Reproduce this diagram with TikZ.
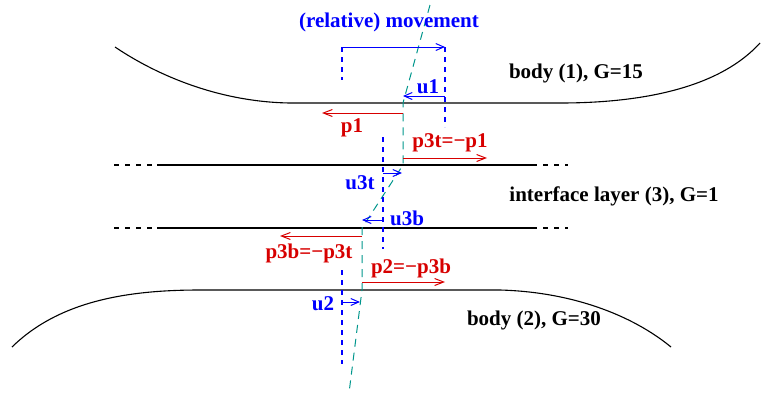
\documentclass[tikz,border=0pt]{standalone}
\usepackage{fontspec}
\setmainfont{Liberation Serif}
\usetikzlibrary{arrows.meta}
\definecolor{myblue}{RGB}{0,0,255}
\definecolor{myred}{RGB}{215,0,0}
\definecolor{myteal}{RGB}{0,150,140}
\begin{document}
\begin{tikzpicture}[x=1pt,y=-1pt,
  lbl/.style={font=\fontsize{21}{24}\selectfont\bfseries, inner sep=0pt},
  bodyline/.style={line width=1.1pt, black},
  layerline/.style={line width=1.2pt, black},
  layerdash/.style={line width=1.2pt, black, dash pattern=on 5pt off 6pt},
  bluedash/.style={line width=1.1pt, draw=myblue, dash pattern=on 5pt off 5pt},
  tealdash/.style={line width=1pt, draw=myteal, dash pattern=on 8pt off 6pt},
  bluearr/.style={line width=1pt, draw=myblue, -{Straight Barb[length=8pt,width=7pt]}},
  redarr/.style={line width=1pt, draw=myred, -{Straight Barb[length=9pt,width=7pt]}}
]
\useasboundingbox (0,0) rectangle (763,397);

% bodies
\draw[bodyline] (115,47) .. controls (158,76) and (220,102) .. (290,103) -- (560,103)
  .. controls (650,103) and (722,85) .. (760,43);
\draw[bodyline] (12,347) .. controls (60,300) and (130,290) .. (200,290) -- (500,290)
  .. controls (572,292) and (632,315) .. (671,347);

% interface layer lines
\draw[layerline] (157,165) -- (532,165);
\draw[layerdash] (114,165) -- (157,165);
\draw[layerdash] (532,165) -- (568,165);
\draw[layerline] (157,228) -- (532,228);
\draw[layerdash] (114,228) -- (157,228);
\draw[layerdash] (532,228) -- (568,228);

% teal displacement line
\coordinate (t0) at (430,5);
\coordinate (t1) at (403,103);
\coordinate (t2) at (403,165);
\coordinate (t3) at (362,228);
\coordinate (t4) at (362,290);
\coordinate (t5) at (349,393);
\draw[tealdash] (t0) -- (t1) -- (t2) -- (t3) -- (t4) -- (t5);

% blue reference verticals
\coordinate (mL) at (342,47);
\coordinate (mLb) at (342,80);
\coordinate (mR) at (445,47);
\coordinate (mRb) at (445,127);
\draw[bluedash] (mL) -- (mLb);
\draw[bluedash] (mR) -- (mRb);
\coordinate (v3t) at (383,137);
\coordinate (v3b) at (383,249);
\draw[bluedash] (v3t) -- (v3b);
\coordinate (v2t) at (342,270);
\coordinate (v2b) at (342,364);
\draw[bluedash] (v2t) -- (v2b);

% movement arrow
\node[lbl, text=myblue] (mov) at (389,22) {(relative) movement};
\draw[bluearr] (mL) -- (mR);

% u arrows
\coordinate (u1s) at (445,96);
\coordinate (u1e) at (403,96);
\draw[bluearr] (u1s) -- (u1e);
\node[lbl, text=myblue] (u1) at (428,87) {u1};

\coordinate (u3ts) at (383,173);
\coordinate (u3te) at (402,173);
\draw[bluearr] (u3ts) -- (u3te);
\node[lbl, text=myblue] (u3t) at (360,183) {u3t};

\coordinate (u3bs) at (383,220);
\coordinate (u3be) at (362,220);
\draw[bluearr] (u3bs) -- (u3be);
\node[lbl, text=myblue] (u3b) at (407,218) {u3b};

\coordinate (u2s) at (342,302);
\coordinate (u2e) at (360,302);
\draw[bluearr] (u2s) -- (u2e);
\node[lbl, text=myblue] (u2) at (323,304) {u2};

% p arrows
\coordinate (p1s) at (403,113);
\coordinate (p1e) at (322,113);
\draw[redarr] (p1s) -- (p1e);
\node[lbl, text=myred] (p1) at (352,128) {p1};

\coordinate (p3ts) at (403,158);
\coordinate (p3te) at (487,158);
\draw[redarr] (p3ts) -- (p3te);
\node[lbl, text=myred] (p3t) at (450,143) {p3t=−p1};

\coordinate (p3bs) at (362,236);
\coordinate (p3be) at (280,236);
\draw[redarr] (p3bs) -- (p3be);
\node[lbl, text=myred] (p3b) at (309,253) {p3b=−p3t};

\coordinate (p2s) at (362,282);
\coordinate (p2e) at (445,282);
\draw[redarr] (p2s) -- (p2e);
\node[lbl, text=myred] (p2) at (411,268) {p2=−p3b};

% body labels
\node[lbl] (b1) at (576,73) {body (1), G=15};
\node[lbl] (il) at (614,196) {interface layer (3), G=1};
\node[lbl] (b2) at (534,320) {body (2), G=30};
\end{tikzpicture}
\end{document}
